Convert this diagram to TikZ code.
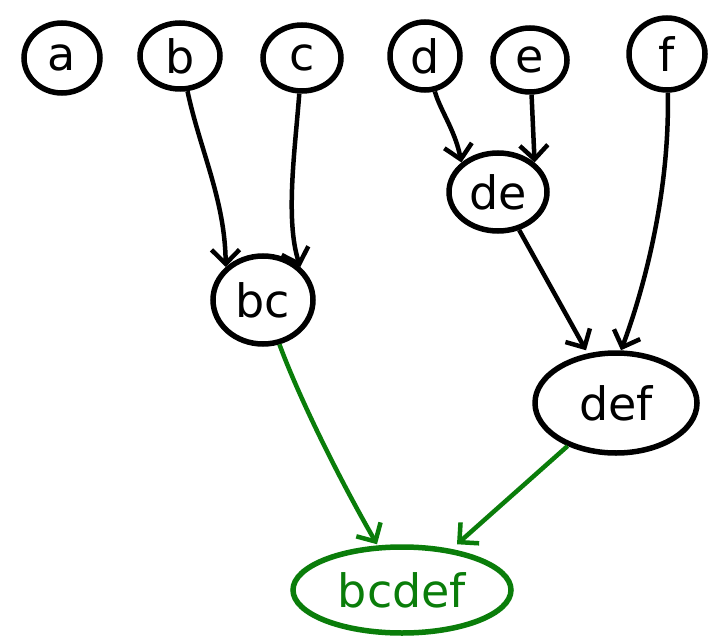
\documentclass[tikz,border=0pt]{standalone}
\usepackage{fontspec}
\setmainfont{DejaVu Sans}
\usetikzlibrary{arrows.meta,shapes.geometric}
\definecolor{grn}{RGB}{10,125,10}
\begin{document}
\begin{tikzpicture}[x=1pt,y=-1pt,
  nd/.style={draw=black,line width=5.5pt,ellipse,inner sep=0pt,font=\fontsize{46}{46}\selectfont},
  gnd/.style={nd,draw=grn,text=grn},
  ar/.style={line width=4.5pt,-{Straight Barb[length=14pt,width=28pt]}},
  gar/.style={ar,draw=grn,line width=4.5pt}]
\useasboundingbox (0,0) rectangle (711,636);
\node[nd,minimum width=76pt,minimum height=70pt] (a) at (62,58) {a};
\node[nd,minimum width=80pt,minimum height=66pt] (b) at (180,56) {b};
\node[nd,minimum width=78pt,minimum height=66pt] (c) at (302,58) {c};
\node[nd,minimum width=70pt,minimum height=68pt] (d) at (425,56) {d};
\node[nd,minimum width=74pt,minimum height=64pt] (e) at (530,60) {e};
\node[nd,minimum width=76pt,minimum height=72pt] (f) at (667,54) {f};
\node[nd,minimum width=100pt,minimum height=88pt] (bc) at (263,300) {bc};
\node[nd,minimum width=98pt,minimum height=78pt] (de) at (498,192) {de};
\node[nd,minimum width=162pt,minimum height=100pt] (def) at (616,403) {def};
\node[gnd,minimum width=218pt,minimum height=86pt] (bcdef) at (402,590) {bcdef};
\draw[ar] (b) .. controls (200,150) and (225,200) .. (bc.north west);
\draw[ar] (c) .. controls (295,150) and (285,220) .. (bc.north east);
\draw[ar] (d) .. controls (440,110) and (455,130) .. (de.north west);
\draw[ar] (e) -- (de.north east);
\draw[ar] (de) -- ([xshift=-30pt]def.north);
\draw[ar] (f) .. controls (670,200) and (640,300) .. ([xshift=5pt]def.north);
\draw[gar] (bc) .. controls (300,400) and (340,480) .. ([xshift=-25pt]bcdef.north);
\draw[gar] (def) -- ([xshift=55pt]bcdef.north);
\end{tikzpicture}
\end{document}
